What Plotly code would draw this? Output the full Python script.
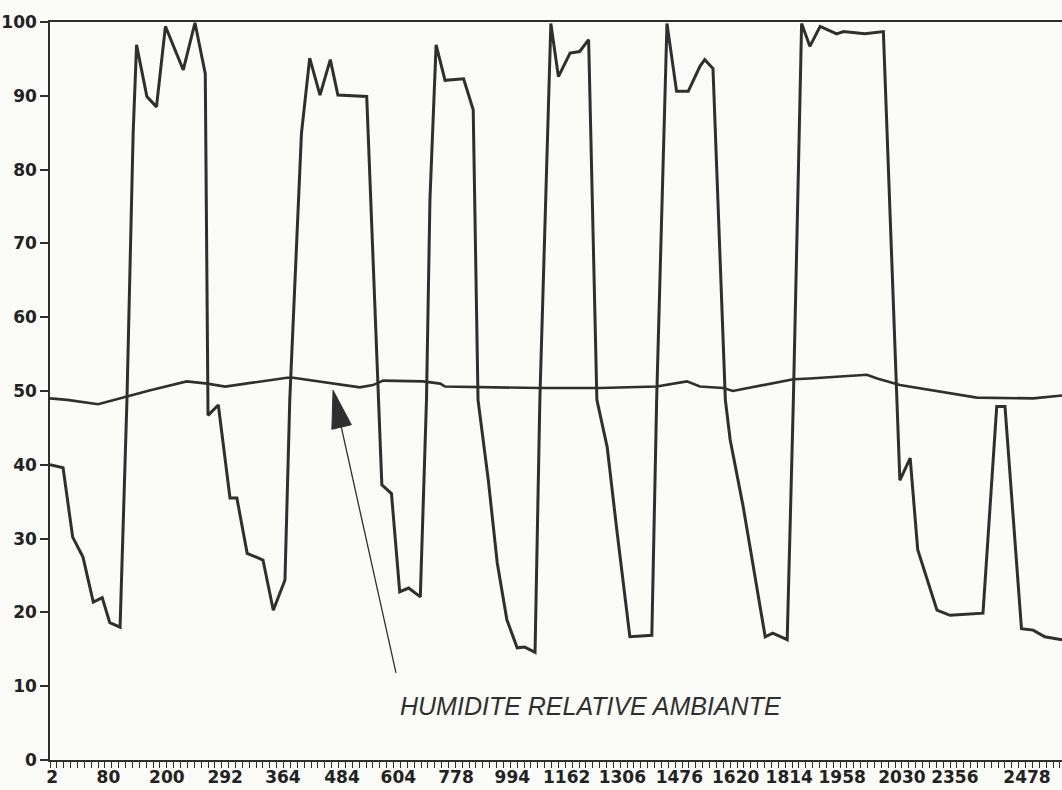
import plotly.graph_objects as go

# ---- data (x in sample/tick units, y in % relative humidity) ----
main_x = [
    0.0, 1.9, 3.3, 4.8, 6.3, 7.6, 8.7, 10.2,
    11.2, 12.1, 12.6, 14.1, 15.5, 16.8, 19.4, 21.1, 22.6,
    23.0, 24.5, 26.2, 27.2, 28.7, 31.0, 32.5, 34.2,
    34.9, 36.6, 37.8, 39.3, 40.8, 41.9, 46.1,
    48.3, 49.7, 50.9, 52.2, 53.9,
    54.8, 55.3, 56.2, 57.5, 60.2, 61.6,
    62.3, 63.8, 65.1, 66.5, 68.0, 69.1, 70.6,
    71.3, 72.5, 72.9, 74.0, 75.7, 77.1, 78.4,
    79.6, 81.1, 82.5, 84.4, 87.6,
    88.3, 89.8, 91.2, 92.9, 94.6, 95.3, 96.5,
    98.3, 99.0, 100.9, 104.1, 105.2, 107.3,
    108.2, 109.4, 110.6, 112.1, 114.5, 115.5, 118.6, 121.3,
    123.7, 125.2, 126.3, 129.1, 131.0, 135.8, 137.8, 139.0, 141.4, 143.1, 144.8, 147.3,
]
main_y = [
    40.0, 39.6, 30.2, 27.5, 21.4, 22.0, 18.6, 18.0,
    48.8, 84.9, 96.9, 89.9, 88.5, 99.4, 93.5, 99.9, 93.0,
    46.7, 48.1, 35.5, 35.5, 28.0, 27.1, 20.3, 24.4,
    48.8, 84.9, 95.1, 90.1, 94.9, 90.1, 89.9,
    37.3, 36.1, 22.8, 23.3, 22.1,
    48.8, 75.9, 96.9, 92.1, 92.3, 88.1,
    48.8, 37.9, 26.7, 19.0, 15.2, 15.3, 14.6,
    48.8, 89.4, 99.8, 92.6, 95.8, 96.0, 97.6,
    48.8, 42.4, 31.2, 16.7, 16.9,
    48.8, 99.8, 90.6, 90.6, 94.0, 94.9, 93.7,
    48.8, 43.4, 34.3, 16.7, 17.2, 16.3,
    48.8, 99.8, 96.7, 99.4, 98.4, 98.7, 98.4, 98.7,
    37.9, 40.9, 28.5, 20.3, 19.6, 19.9, 47.9, 47.9, 17.8, 17.6, 16.7, 16.3,
]

ambient_x = [0.0, 2.5, 7.0, 11.6, 14.6, 19.9, 22.9, 25.5, 34.5, 35.4, 45.1, 47.0,
             48.5, 54.3, 56.8, 57.5, 71.3, 80.1, 88.3, 92.7, 94.6, 98.0, 99.4,
             108.2, 110.6, 118.9, 120.4, 123.7, 134.9, 143.1, 147.3]
ambient_y = [49.0, 48.8, 48.2, 49.4, 50.1, 51.3, 51.0, 50.6, 51.8, 51.8, 50.5, 50.8,
             51.4, 51.3, 51.0, 50.6, 50.4, 50.4, 50.6, 51.3, 50.6, 50.4, 50.0,
             51.6, 51.7, 52.2, 51.7, 50.8, 49.1, 49.0, 49.4]

tick_pos = [0.3, 8.5, 17.0, 25.5, 33.9, 42.5, 50.7, 59.1, 67.3, 75.2,
            83.3, 91.6, 99.8, 107.6, 115.3, 124.0, 131.7, 142.2]
tick_labels = ["2", "80", "200", "292", "364", "484", "604", "778", "994", "1162",
               "1306", "1476", "1620", "1814", "1958", "2030", "2356", "2478"]
y_ticks = list(range(0, 101, 10))

label_text = "HUMIDITE RELATIVE AMBIANTE"

INK = "#2f2f2f"
PAPER = "#fbfbf8"

fig = go.Figure()
fig.add_trace(go.Scatter(x=main_x, y=main_y, mode="lines",
                         line=dict(color=INK, width=3), showlegend=False,
                         hoverinfo="skip"))
fig.add_trace(go.Scatter(x=ambient_x, y=ambient_y, mode="lines",
                         line=dict(color=INK, width=2.6), showlegend=False,
                         hoverinfo="skip"))

# arrow pointing to the ambient humidity line
tip = (41.2, 50.1)
base_a = (43.86, 45.43)
base_b = (41.03, 44.81)
tail = (50.36, 11.8)
fig.add_shape(type="line", xref="x", yref="y", x0=tail[0], y0=tail[1],
              x1=42.4, y1=45.1, line=dict(color=INK, width=1.3))
fig.add_shape(type="path", xref="x", yref="y",
              path=f"M {tip[0]},{tip[1]} L {base_a[0]},{base_a[1]} L {base_b[0]},{base_b[1]} Z",
              fillcolor=INK, line=dict(color=INK, width=1))

fig.add_annotation(x=78.6, y=7.3, xref="x", yref="y", text=label_text,
                   showarrow=False,
                   font=dict(family="Liberation Sans", size=25, color=INK, style="italic"))

tickfont = dict(family="DejaVu Sans", size=17, color="#222222", weight="bold")

fig.update_layout(
    width=1062, height=790,
    margin=dict(l=50, r=0, t=22, b=30),
    paper_bgcolor=PAPER, plot_bgcolor=PAPER,
    xaxis=dict(range=[0, 147.3], showgrid=False, zeroline=False, automargin=False,
               showline=True, linecolor=INK, linewidth=2, mirror=True,
               tickmode="array", tickvals=tick_pos, ticktext=tick_labels,
               tickangle=0,
               ticks="outside", ticklen=1, tickwidth=1, tickcolor="rgba(0,0,0,0)",
               tickfont=tickfont,
               minor=dict(tickmode="linear", tick0=0, dtick=1, ticks="outside",
                          ticklen=6, tickwidth=1.3, tickcolor=INK, showgrid=False)),
    yaxis=dict(range=[0, 100], showgrid=False, zeroline=False, automargin=False,
               showline=True, linecolor=INK, linewidth=1.6,
               tickmode="array", tickvals=y_ticks,
               ticks="outside", ticklen=8, tickwidth=1.5, tickcolor=INK,
               tickfont=tickfont),
)

fig.write_html("out.html", config={"displayModeBar": False},
               post_script="document.body.style.margin='0';")
